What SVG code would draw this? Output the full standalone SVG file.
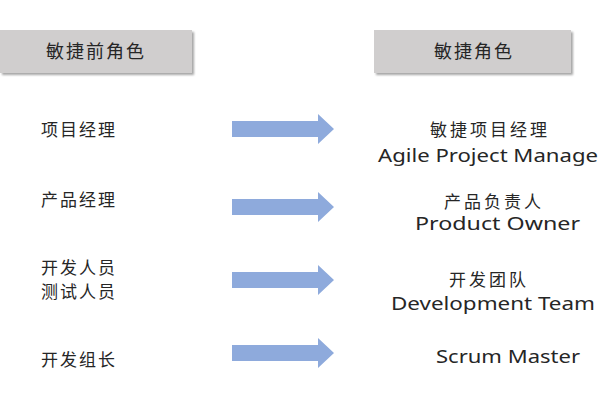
<svg xmlns="http://www.w3.org/2000/svg" width="600" height="400" viewBox="0 0 600 400">
<defs>
<filter id="sh" x="-10%" y="-20%" width="120%" height="150%">
<feDropShadow dx="2" dy="2" stdDeviation="1.2" flood-color="#000" flood-opacity="0.35"/>
</filter>
<path id="arr" d="M0,-8 H86 V-15 L102,0 L86,15 V8 H0 Z"/>
</defs>
<style>
.box{fill:#d0cece;filter:url(#sh)}
.cn{font-family:"Noto Sans CJK SC","Noto Sans",sans-serif;font-size:17px;fill:#262626;letter-spacing:2px}
.cr{font-family:"Noto Sans CJK SC","Noto Sans",sans-serif;font-size:17px;fill:#262626;letter-spacing:3px;text-anchor:middle}
.hd{font-family:"Noto Sans CJK SC","Noto Sans",sans-serif;font-size:18px;fill:#262626;text-anchor:middle;letter-spacing:2px}
.en{font-family:"Noto Sans","Open Sans",sans-serif;font-size:18px;fill:#262626}
.ar{fill:#8eaadc}
</style>
<rect width="600" height="400" fill="#fff"/>
<g id="hdr-left"><rect class="box" x="0" y="30" width="192" height="43"/><text class="hd" x="96" y="58">敏捷前角色</text></g>
<g id="hdr-right"><rect class="box" x="374" y="30" width="197" height="43"/><text class="hd" x="474" y="58">敏捷角色</text></g>
<g id="connectors">
<use href="#arr" class="ar" x="232" y="129"/>
<use href="#arr" class="ar" x="232" y="207"/>
<use href="#arr" class="ar" x="232" y="280"/>
<use href="#arr" class="ar" x="232" y="353"/>
</g>
<g id="pm"><text class="cn" x="41" y="136">项目经理</text></g>
<g id="po-old"><text class="cn" x="41" y="206">产品经理</text></g>
<g id="dev-old"><text class="cn" x="41" y="274">开发人员</text><text class="cn" x="41" y="298">测试人员</text></g>
<g id="lead-old"><text class="cn" x="41" y="366">开发组长</text></g>
<g id="apm"><text class="cr" x="490" y="136">敏捷项目经理</text><text class="en" x="378" y="162" textLength="220" lengthAdjust="spacingAndGlyphs">Agile Project Manage</text></g>
<g id="po"><text class="cr" x="494" y="208">产品负责人</text><text class="en" x="415" y="230" textLength="165" lengthAdjust="spacingAndGlyphs">Product Owner</text></g>
<g id="team"><text class="cr" x="489" y="286">开发团队</text><text class="en" x="391" y="310" textLength="204" lengthAdjust="spacingAndGlyphs">Development Team</text></g>
<g id="sm"><text class="en" x="436" y="363" textLength="144" lengthAdjust="spacingAndGlyphs">Scrum Master</text></g>
</svg>
